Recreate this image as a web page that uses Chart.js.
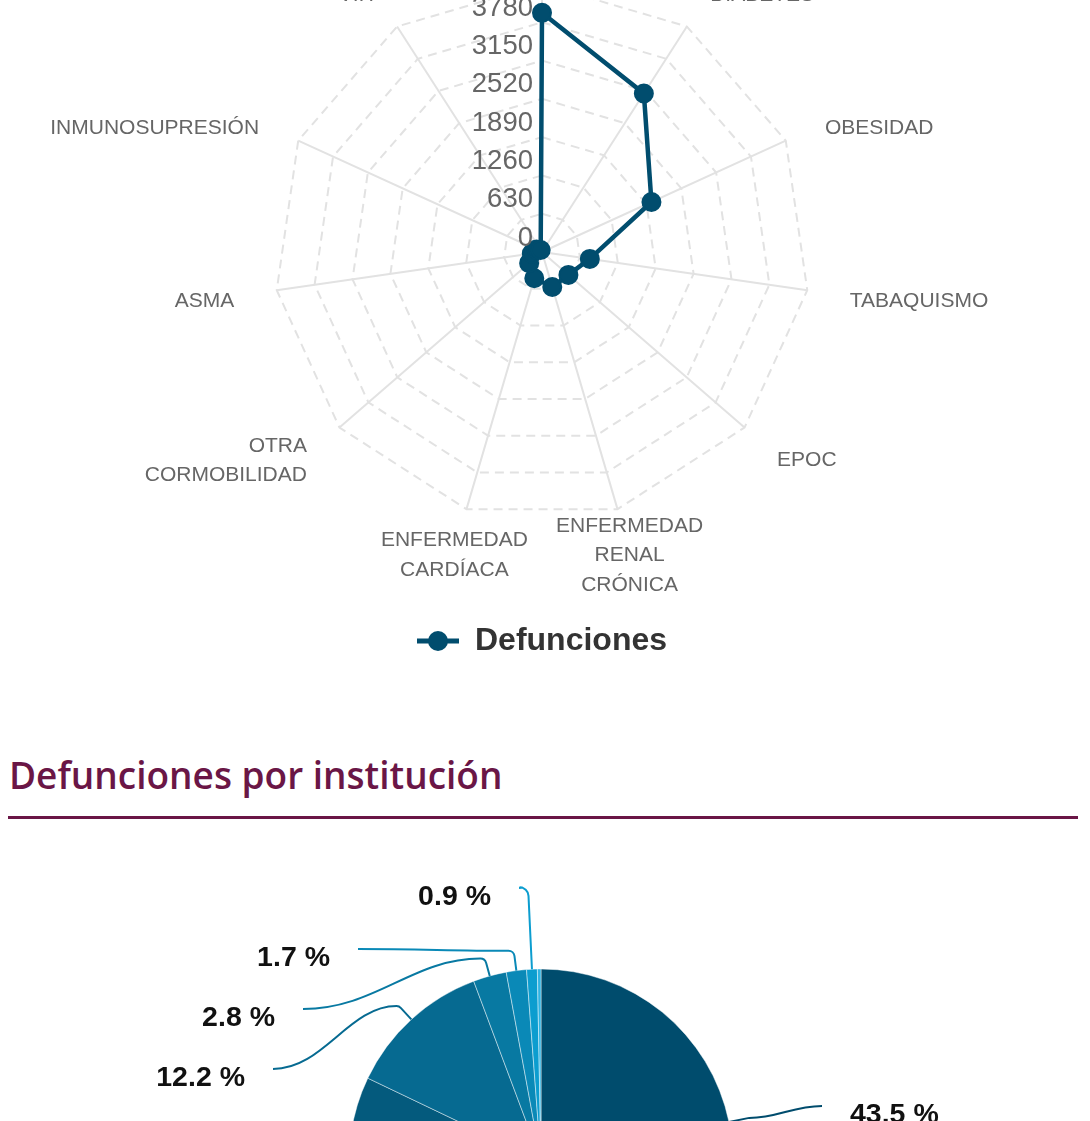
<!DOCTYPE html>
<html lang="es">
<head>
<meta charset="utf-8">
<title>Defunciones</title>
<script src="https://cdn.jsdelivr.net/npm/chart.js@4.4.1/dist/chart.umd.min.js"></script>
<style>
  html, body { margin: 0; padding: 0; background: #fff; overflow: hidden; }
  body { width: 1090px; height: 1121px; position: relative; }
  #radarBox { position: absolute; left: 0; top: -16px; width: 1090px; height: 683px; }
  #pieBox { position: absolute; left: 0; top: 840px; width: 1082px; height: 642px; }
  h2 { position: absolute; left: 9px; top: 749px; margin: 0; font: 600 37px 'Open Sans', sans-serif; color: #6a1646; }
  .rule { position: absolute; left: 8px; top: 816px; width: 1070px; height: 3px; background: #6a1646; }
</style>
</head>
<body>
<div id="radarBox"><canvas id="radarChart"></canvas></div>
<h2>Defunciones por institución</h2>
<div class="rule"></div>
<div id="pieBox"><canvas id="pieChart"></canvas></div>

<script>
// --- datos: comorbilidades ---
const comorbilidades = ['HIPERTENSIÓN', 'DIABETES', 'OBESIDAD', 'TABAQUISMO', 'EPOC',
    ['ENFERMEDAD', 'RENAL', 'CRÓNICA'], ['ENFERMEDAD', 'CARDÍACA'], ['OTRA', 'CORMOBILIDAD'],
    'ASMA', 'INMUNOSUPRESIÓN', 'VIH'];
const defunciones = [3936, 3100, 1980, 795, 575, 600, 450, 280, 170, 100, 40];
const pasoEscala = 630;
const maxEscala = 4410;

// --- datos: instituciones ---
const instituciones = ['IMSS', 'SSA', 'ISSSTE', 'PEMEX', 'SEDENA', 'PRIVADA', 'SEMAR'];
const porcentajes = [43.5, 38.6, 12.2, 2.8, 1.7, 0.9, 0.3];

const FONT = '"Liberation Sans", Arial, sans-serif';
const AZUL = '#014d6e';
const coloresPie = ['#004c6d', '#045a7d', '#066a91', '#0879a2', '#0a89b7', '#0c9dcf', '#2fb3e3'];

// where each percentage label sits (offset of line end from pie centre), null = hidden
const etiquetasPie = [
    { len: 20, dx: 281, dy: -55, r: 6 },
    { len: 20, dx: -200, dy: 160, r: 6 },
    { len: 18, dx: -268, dy: -92, r: 6 },
    { len: 18, dx: -238, dy: -152, r: 6 },
    { len: 20, dx: -183, dy: -212, r: 6 },
    { len: 82, dx: -22, dy: -273, r: 9 },
    null
];

// legend marker: line with a dot
function legendMarker() {
    const c = document.createElement('canvas');
    c.width = 42; c.height = 22;
    const g = c.getContext('2d');
    g.strokeStyle = AZUL; g.fillStyle = AZUL; g.lineWidth = 5;
    g.beginPath(); g.moveTo(0, 11); g.lineTo(42, 11); g.stroke();
    g.beginPath(); g.arc(21, 11, 10, 0, Math.PI * 2); g.fill();
    return c;
}

const radarLabels = {
    id: 'radarLabels',
    afterDatasetsDraw(chart) {
        const r = chart.scales.r;
        const ctx = chart.ctx;
        ctx.save();
        ctx.fillStyle = '#666';
        ctx.textBaseline = 'middle';
        ctx.font = '21px ' + FONT;
        comorbilidades.forEach((name, i) => {
            const p = r.getPointPosition(i, r.drawingArea + 43);
            const lines = Array.isArray(name) ? name : [name];
            const dx = p.x - r.xCenter;
            ctx.textAlign = Math.abs(dx) < 100 ? 'center' : (dx > 0 ? 'left' : 'right');
            const top = p.y + 5 - (lines.length - 1) * 29.5 / 2;
            lines.forEach((l, k) => ctx.fillText(l, p.x, top + k * 29.5));
        });
        ctx.font = '27.5px ' + FONT;
        ctx.textAlign = 'right';
        r.ticks.forEach(t => {
            const d = r.getDistanceFromCenterForValue(t.value);
            ctx.fillText(String(t.value), r.xCenter - 9, r.yCenter - d - 14);
        });
        ctx.restore();
    }
};

const pieLabels = {
    id: 'pieLabels',
    afterDatasetsDraw(chart) {
        const ctx = chart.ctx;
        chart.getDatasetMeta(0).data.forEach((arc, i) => {
            const lay = etiquetasPie[i];
            if (!lay) return;
            const mid = (arc.startAngle + arc.endAngle) / 2;
            const p0 = { x: arc.x + Math.cos(mid) * arc.outerRadius, y: arc.y + Math.sin(mid) * arc.outerRadius };
            const p1 = { x: p0.x + Math.cos(mid) * lay.len, y: p0.y + Math.sin(mid) * lay.len };
            const p2 = { x: arc.x + lay.dx, y: arc.y + lay.dy };
            const side = p2.x < p1.x ? -1 : 1;
            const k = Math.abs(p2.x - p1.x) * 0.4;
            ctx.save();
            ctx.strokeStyle = coloresPie[i];
            ctx.lineWidth = 2;
            ctx.beginPath();
            ctx.moveTo(p0.x, p0.y);
            ctx.arcTo(p1.x, p1.y, p1.x + side * 12, p1.y, lay.r);
            ctx.bezierCurveTo(p1.x + side * k, p1.y, p2.x - side * k, p2.y, p2.x, p2.y);
            ctx.stroke();
            ctx.fillStyle = '#111';
            ctx.font = 'bold 28.5px ' + FONT;
            ctx.textBaseline = 'middle';
            ctx.textAlign = side < 0 ? 'right' : 'left';
            ctx.fillText(porcentajes[i].toFixed(1) + ' %', p2.x + side * 28, p2.y + 9);
            ctx.restore();
        });
    }
};

new Chart(document.getElementById('radarChart'), {
    type: 'radar',
    data: {
        labels: comorbilidades,
        datasets: [{
            label: 'Defunciones',
            data: defunciones,
            borderColor: AZUL,
            backgroundColor: AZUL,
            pointBackgroundColor: AZUL,
            pointBorderColor: AZUL,
            borderWidth: 4.5,
            pointRadius: 9,
            pointBorderWidth: 2,
            fill: false,
            tension: 0
        }]
    },
    options: {
        responsive: true,
        maintainAspectRatio: false,
        animation: false,
        layout: { padding: { left: 0, right: 6, top: 0, bottom: 0 } },
        scales: {
            r: {
                min: 0,
                max: maxEscala,
                ticks: { display: false, stepSize: pasoEscala },
                pointLabels: { display: false },
                grid: { color: '#e2e2e2', lineWidth: 2 },
                border: { dash: [9, 6] },
                angleLines: { color: '#e2e2e2', lineWidth: 2 }
            }
        },
        plugins: {
            tooltip: { enabled: false },
            legend: {
                position: 'bottom',
                labels: {
                    usePointStyle: true,
                    pointStyle: legendMarker(),
                    pointStyleWidth: 42,
                    padding: 104,
                    color: '#333',
                    font: { family: FONT, size: 32, weight: 'bold' }
                }
            }
        }
    },
    plugins: [radarLabels]
});

new Chart(document.getElementById('pieChart'), {
    type: 'pie',
    data: {
        labels: instituciones,
        datasets: [{
            data: porcentajes,
            backgroundColor: coloresPie,
            borderColor: 'rgba(255,255,255,0.45)',
            borderWidth: 1,
            radius: 192
        }]
    },
    options: {
        responsive: true,
        maintainAspectRatio: false,
        animation: false,
        layout: { padding: 0 },
        plugins: { legend: { display: false }, tooltip: { enabled: false } }
    },
    plugins: [pieLabels]
});
</script>
</body>
</html>
